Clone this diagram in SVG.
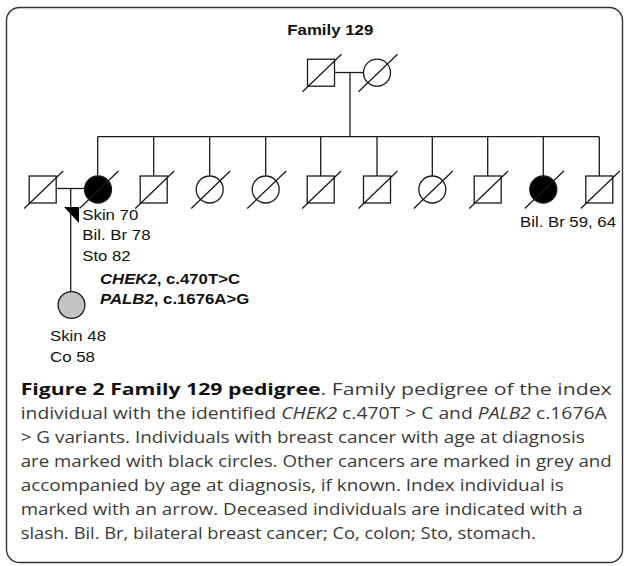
<svg xmlns="http://www.w3.org/2000/svg" width="624" height="566" viewBox="0 0 624 566">
<style>
.ln{stroke:#1a1a1a;stroke-width:1.3;fill:none}
.sym{stroke:#1a1a1a;stroke-width:1.3;fill:#fff}
.aff{fill:#000}
.grey{fill:#c3c3c3}
.lbl{font-family:"Liberation Sans",Arial,sans-serif;font-size:15px;fill:#111}
.gene{font-family:"Liberation Sans",Arial,sans-serif;font-size:14.5px;font-weight:bold;fill:#111}
.cap{font-family:"Open Sans",sans-serif;font-size:16px;fill:#3a3a3a}
</style>
<defs>
<rect id="sq" x="-13.5" y="-13.5" width="27" height="27"/>
<circle id="ci" r="13.5"/>
<line id="sl" x1="-18.5" y1="19" x2="20.5" y2="-18.5"/>
</defs>
<rect x="6.5" y="7.5" width="616" height="555" rx="13" fill="#fff" stroke="#333" stroke-width="1.4"/>
<text x="287.3" y="35" font-family="Liberation Sans,Arial,sans-serif" font-weight="bold" font-size="15.5" fill="#111" textLength="86" lengthAdjust="spacingAndGlyphs">Family 129</text>
<g id="connectors" class="ln">
<line x1="334.5" y1="72.5" x2="363.5" y2="72.5"/>
<line x1="350" y1="72.5" x2="350" y2="136.7"/>
<line x1="97.7" y1="136.7" x2="599.3" y2="136.7"/>
<line x1="97.7" y1="136.7" x2="97.7" y2="176"/>
<line x1="153.7" y1="136.7" x2="153.7" y2="176"/>
<line x1="209.7" y1="136.7" x2="209.7" y2="176"/>
<line x1="265.7" y1="136.7" x2="265.7" y2="176"/>
<line x1="320.7" y1="136.7" x2="320.7" y2="176"/>
<line x1="377" y1="136.7" x2="377" y2="176"/>
<line x1="432.3" y1="136.7" x2="432.3" y2="176"/>
<line x1="487.7" y1="136.7" x2="487.7" y2="176"/>
<line x1="543.3" y1="136.7" x2="543.3" y2="176"/>
<line x1="599.3" y1="136.7" x2="599.3" y2="176"/>
<line x1="56" y1="188.5" x2="84.5" y2="188.5"/>
<line x1="70.7" y1="188.5" x2="70.7" y2="291.7"/>
</g>
<g id="I-1" transform="translate(321,72.7)"><use href="#sq" class="sym"/><use href="#sl" class="ln"/></g>
<g id="I-2" transform="translate(377,72.7)"><use href="#ci" class="sym"/><use href="#sl" class="ln"/></g>
<g id="II-spouse" transform="translate(42.7,189.5)"><use href="#sq" class="sym"/><use href="#sl" class="ln"/></g>
<g id="II-1" transform="translate(98,189.5)"><use href="#ci" class="sym aff"/><use href="#sl" class="ln"/></g>
<g id="II-2" transform="translate(153.7,189.5)"><use href="#sq" class="sym"/><use href="#sl" class="ln"/></g>
<g id="II-3" transform="translate(209.7,189.5)"><use href="#ci" class="sym"/><use href="#sl" class="ln"/></g>
<g id="II-4" transform="translate(265.7,189.5)"><use href="#ci" class="sym"/><use href="#sl" class="ln"/></g>
<g id="II-5" transform="translate(320.7,189.5)"><use href="#sq" class="sym"/><use href="#sl" class="ln"/></g>
<g id="II-6" transform="translate(377,189.5)"><use href="#sq" class="sym"/><use href="#sl" class="ln"/></g>
<g id="II-7" transform="translate(432.3,189.5)"><use href="#ci" class="sym"/><use href="#sl" class="ln"/></g>
<g id="II-8" transform="translate(487.7,189.5)"><use href="#sq" class="sym"/><use href="#sl" class="ln"/></g>
<g id="II-9" transform="translate(543.3,189.5)"><use href="#ci" class="sym aff"/><use href="#sl" class="ln"/></g>
<g id="II-10" transform="translate(599.3,189.5)"><use href="#sq" class="sym"/><use href="#sl" class="ln"/></g>
<g id="II-1-labels">
<text class="lbl" x="82.3" y="220" textLength="56" lengthAdjust="spacingAndGlyphs">Skin 70</text>
<text class="lbl" x="82.3" y="240" textLength="68.3" lengthAdjust="spacingAndGlyphs">Bil. Br 78</text>
<text class="lbl" x="82.3" y="260.7" textLength="48.3" lengthAdjust="spacingAndGlyphs">Sto 82</text>
</g>
<text class="lbl" x="520" y="227.3" textLength="96" lengthAdjust="spacingAndGlyphs">Bil. Br 59, 64</text>
<g id="III-1">
<polygon points="64,207 79,207 79,223" fill="#000"/>
<circle cx="71.5" cy="305" r="13.4" class="sym grey"/>
<text class="gene" x="100" y="284" textLength="140" lengthAdjust="spacingAndGlyphs"><tspan font-style="italic">CHEK2</tspan>, c.470T&gt;C</text>
<text class="gene" x="100" y="304" textLength="149.3" lengthAdjust="spacingAndGlyphs"><tspan font-style="italic">PALB2</tspan>, c.1676A&gt;G</text>
<text class="lbl" x="50" y="341" textLength="56" lengthAdjust="spacingAndGlyphs">Skin 48</text>
<text class="lbl" x="50" y="361.7" textLength="45" lengthAdjust="spacingAndGlyphs">Co 58</text>
</g>
<g id="caption" class="cap">
<text x="20.7" y="395" textLength="591" lengthAdjust="spacingAndGlyphs"><tspan font-weight="bold" fill="#111">Figure 2 Family 129 pedigree</tspan>. Family pedigree of the index</text>
<text x="20.7" y="419" textLength="586" lengthAdjust="spacingAndGlyphs">individual with the identified <tspan font-style="italic">CHEK2</tspan> c.470T &gt; C and <tspan font-style="italic">PALB2</tspan> c.1676A</text>
<text x="20.7" y="443" textLength="564" lengthAdjust="spacingAndGlyphs">&gt; G variants. Individuals with breast cancer with age at diagnosis</text>
<text x="20.7" y="467" textLength="591" lengthAdjust="spacingAndGlyphs">are marked with black circles. Other cancers are marked in grey and</text>
<text x="20.7" y="491" textLength="543" lengthAdjust="spacingAndGlyphs">accompanied by age at diagnosis, if known. Index individual is</text>
<text x="20.7" y="515" textLength="562" lengthAdjust="spacingAndGlyphs">marked with an arrow. Deceased individuals are indicated with a</text>
<text x="20.7" y="539" textLength="515" lengthAdjust="spacingAndGlyphs">slash. Bil. Br, bilateral breast cancer; Co, colon; Sto, stomach.</text>
</g>
</svg>
